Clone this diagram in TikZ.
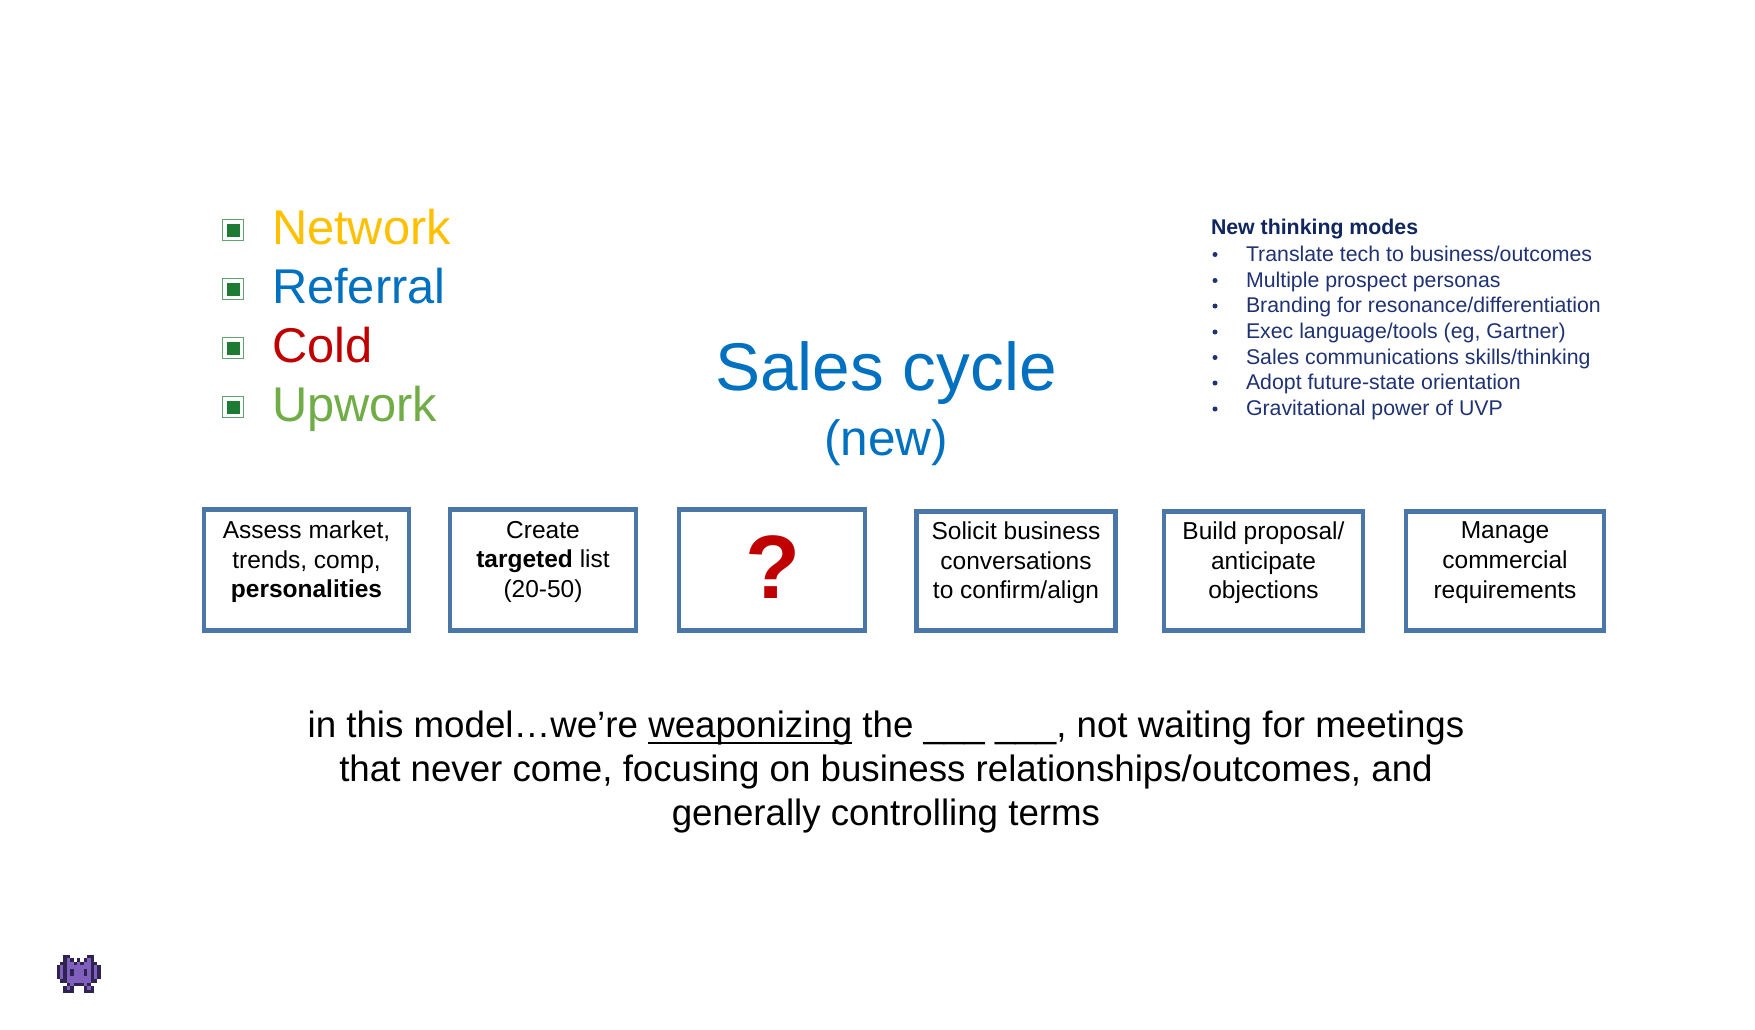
\documentclass[tikz,border=0pt]{standalone}
\usepackage{fontspec}
\setmainfont{Liberation Sans}
\definecolor{cyellow}{HTML}{FFC000}
\definecolor{cblue}{HTML}{0070C0}
\definecolor{cred}{HTML}{C00000}
\definecolor{cgreen}{HTML}{70AD47}
\definecolor{cnavy}{HTML}{1F3272}
\definecolor{cnavyb}{HTML}{10265F}
\definecolor{cbox}{HTML}{4A76A8}
\definecolor{csq}{HTML}{1E7B34}
\definecolor{calien}{HTML}{7F60BC}
\definecolor{caliendark}{HTML}{2F2350}
\newcommand{\ulword}[1]{\setbox0\hbox{#1}\rlap{\raisebox{-7pt}{\rule{\wd0}{2.2pt}}}\box0\relax}
\newcommand{\padbelow}{\\[-8pt]\mbox{}}
\tikzset{
  every node/.style={inner sep=0pt,outer sep=0pt},
  chan/.style={anchor=base west,font=\fontsize{48.8}{58}\selectfont},
  sqout/.style={draw=csq!70!white,line width=1.4pt,fill=white,minimum size=21pt},
  sqin/.style={fill=csq,minimum size=13pt},
  procbox/.style={draw=cbox,line width=4.4pt,fill=white,align=center,font=\fontsize{24.5}{29.7}\selectfont,text=black},
  modes/.style={anchor=base west,text=cnavy,font=\fontsize{21.3}{26}\selectfont},
  dotb/.style={circle,fill=cnavy,minimum size=5pt},
  ttl/.style={anchor=base,text=cblue},
  body/.style={anchor=base,font=\fontsize{36.7}{44}\selectfont,text=black},
  pxD/.style={fill=caliendark},
  pxL/.style={fill=calien},
  pxN/.style={fill=none},
}
\begin{document}
\begin{tikzpicture}[x=1pt,y=-1pt]
\useasboundingbox (0,0) rectangle (1755,1029);
\fill[white] (0,0) rectangle (1755,1029);
% legend
\foreach \n/\y/\c/\t in {a/244/cyellow/Network,b/303/cblue/Referral,c/362/cred/Cold,d/421/cgreen/Upwork}{
  \pgfmathsetmacro{\yy}{\y-14}
  \node[sqout] (sqo\n) at (233,\yy) {};
  \node[sqin] (sqi\n) at (233,\yy) {};
  \node[chan,text=\c] (leg\n) at (272,\y) {\t};
}
% title
\node[ttl,font=\fontsize{67.5}{70}\selectfont] (title) at (886,390) {Sales cycle};
\node[ttl,font=\fontsize{49.5}{52}\selectfont] (sub) at (886,455) {(new)};
% modes
\node[modes,text=cnavyb,font=\bfseries\fontsize{21.3}{26}\selectfont] (mh) at (1211,234) {New thinking modes};
\foreach \n/\y/\t in {1/261/{Translate tech to business/outcomes},2/287/{Multiple prospect personas},3/312.5/{Branding for resonance/differentiation},4/338.5/{Exec language/tools (eg, Gartner)},5/364/{Sales communications skills/thinking},6/389.5/{Adopt future-state orientation},7/415.5/{Gravitational power of UVP}}{
  \node[dotb] (md\n) at (1215,\y-6.5) {};
  \node[modes] (mt\n) at (1246,\y) {\t};
}
% boxes
\node[procbox,minimum width=205pt,minimum height=121pt] (b1) at (306.5,570) {Assess market,\\trends, comp,\\\textbf{personalities}\padbelow};
\node[procbox,minimum width=186pt,minimum height=121pt] (b2) at (543,570) {Create\\\textbf{targeted} list\\(20-50)\padbelow};
\node[procbox,minimum width=186pt,minimum height=121pt,text=cred,font=\bfseries\fontsize{90}{90}\selectfont] (b3) at (772,570) {\raisebox{5pt}{\hspace{2pt}?}};
\node[procbox,minimum width=199pt,minimum height=119pt] (b4) at (1016,571) {Solicit business\\conversations\\to confirm/align\padbelow};
\node[procbox,minimum width=199pt,minimum height=119pt] (b5) at (1263.5,571) {Build proposal/\\anticipate\\objections\padbelow};
\node[procbox,minimum width=198pt,minimum height=119pt] (b6) at (1505,571) {Manage\\commercial\\requirements\padbelow};
% body text
\node[body] (l1) at (886,737) {in this model…we’re \ulword{weaponizing} the \_\_\_ \_\_\_, not waiting for meetings};
\node[body] (l2) at (886,781) {that never come, focusing on business relationships/outcomes, and};
\node[body] (l3) at (886,825) {generally controlling terms};
% alien pixel icon
\begin{scope}[shift={(56.5,954.5)},x=3.4pt,y=-3.5pt]
  \foreach \r [count=\yi from 0] in {
    {N,N,D,D,N,N,N,N,N,D,D,N,N},
    {N,N,D,L,D,N,D,N,D,L,D,N,N},
    {N,D,D,L,L,D,L,D,L,L,D,D,N},
    {D,L,D,L,L,L,L,L,L,L,D,L,D},
    {D,L,D,L,D,L,L,L,D,L,D,L,D},
    {D,L,D,L,D,L,L,L,D,L,D,L,D},
    {D,L,D,L,L,L,L,L,L,L,D,L,D},
    {N,D,D,L,L,L,L,L,L,L,D,D,N},
    {N,N,N,D,L,D,D,D,L,D,N,N,N},
    {N,N,D,L,D,N,N,N,D,L,D,N,N},
    {N,N,D,D,D,N,N,N,D,D,D,N,N}}{
    \foreach \c [count=\xi from 0] in \r {
      \fill[px\c] (\xi,\yi) rectangle ++(1.03,1.03);
    }
  }
\end{scope}
\end{tikzpicture}
\end{document}
